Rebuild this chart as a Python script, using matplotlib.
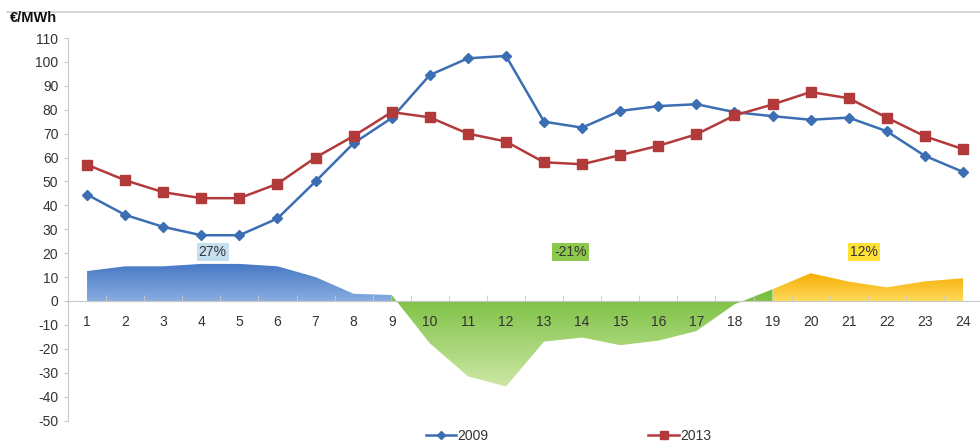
import numpy as np
import matplotlib
matplotlib.use("Agg")
import matplotlib.pyplot as plt
from matplotlib.lines import Line2D

plt.rcParams['font.family'] = ['Liberation Sans', 'DejaVu Sans']
plt.rcParams['axes.unicode_minus'] = False

hours = list(range(1, 25))
p2009 = [44.5, 36, 31, 27.5, 27.5, 34.5, 50, 66, 76.5, 94.5, 101.5, 102.5,
         75, 72.5, 79.5, 81.5, 82.3, 79, 77.3, 75.8, 76.7, 71, 60.7, 54]
p2013 = [57, 50.5, 45.5, 43, 43, 49, 60, 69, 79, 76.8, 70, 66.7,
         58, 57.2, 61, 64.9, 69.7, 77.6, 82.2, 87.4, 84.8, 76.7, 68.9, 63.5]
series_names = ['2009', '2013']
ylabel = '€/MWh'
yticks = list(range(-50, 111, 10))
segments = [(1, 9, '27%'), (9, 19, '-21%'), (19, 24, '12%')]

x = np.array(hours, dtype=float)
diff = np.array(p2013) - np.array(p2009)

fig = plt.figure(figsize=(9.8, 4.46), dpi=100)
ax = fig.add_axes([68/980, 25.5/446, 914/980, 382.5/446])

def gradient_fill(ax, xs, ys, ctop, cbot, ytop, ybot):
    poly = ax.fill_between(xs, ys, 0, facecolor='none', edgecolor='none', zorder=1)
    n = 256
    ctop = np.array(ctop) / 255.0
    cbot = np.array(cbot) / 255.0
    t = np.linspace(0, 1, n)[:, None]
    cols = cbot[None, :] * (1 - t) + ctop[None, :] * t
    img = np.ones((n, 1, 4))
    img[:, 0, :3] = cols
    im = ax.imshow(img, extent=[xs[0], xs[-1], ybot, ytop], origin='lower',
                   aspect='auto', zorder=1, interpolation='bilinear')
    path = poly.get_paths()[0]
    im.set_clip_path(path, transform=ax.transData)

# blue segment
s = slice(0, 9)
gradient_fill(ax, x[s], diff[s], (68, 118, 196), (135, 172, 224), 16, 0)
# green segment
s = slice(8, 19)
gradient_fill(ax, x[s], diff[s], (115, 188, 55), (205, 232, 165), 6, -36)
# yellow segment
s = slice(18, 24)
gradient_fill(ax, x[s], diff[s], (245, 172, 0), (255, 218, 90), 12, 0)

c09 = '#3b6eb2'
c13 = '#b33a3a'
ax.plot(x, p2009, color=c09, lw=1.8, marker='D', markersize=5.5, zorder=4)
ax.plot(x, p2013, color=c13, lw=1.8, marker='s', markersize=7, zorder=4)

# segment labels
lab_pos = [(4.3, '#c6dff0'), (13.7, '#8cc84b'), (21.4, '#ffe135')]
for (a, b, txt), (xp, fc) in zip(segments, lab_pos):
    ax.text(xp, 20.5, txt, ha='center', va='center', fontsize=10, color='#333333',
            bbox=dict(boxstyle='square,pad=0.15', fc=fc, ec='none'), zorder=5)

ax.set_xlim(0.5, 24.5)
ax.set_ylim(-50, 110)
ax.set_yticks(yticks)
ax.set_xticks(hours)
ax.set_xticks(np.arange(0.5, 24.6, 1), minor=True)
ax.tick_params(axis='x', which='major', length=0, pad=10, labelsize=10, labelcolor='#333333')
ax.tick_params(axis='x', which='minor', length=4, color='#c8c8c8', direction='in')
ax.tick_params(axis='y', length=3, color='#c8c8c8', labelsize=10, labelcolor='#333333', pad=4)
ax.spines['top'].set_visible(False)
ax.spines['right'].set_visible(False)
ax.spines['bottom'].set_position(('data', 0))
ax.spines['bottom'].set_color('#c8c8c8')
ax.spines['left'].set_color('#c8c8c8')
ax.spines['bottom'].set_zorder(3)

fig.text(10/980, 1 - 18/446, ylabel, fontsize=10.5, fontweight='bold', color='#111111',
         ha='left', va='center')
fig.add_artist(Line2D([7/980, 1.0], [1 - 12/446, 1 - 12/446], color='#d0d0d0', lw=1.2))

handles = [Line2D([], [], color=c09, lw=1.8, marker='D', markersize=4),
           Line2D([], [], color=c13, lw=1.8, marker='s', markersize=5.5)]
fig.legend(handles, series_names, loc='center', bbox_to_anchor=(0.58, 10/446), ncol=2,
           frameon=False, fontsize=10, handlelength=2.2, handletextpad=0.1,
           columnspacing=11.5, labelcolor='#333333')

fig.savefig('out.png', dpi=100)
